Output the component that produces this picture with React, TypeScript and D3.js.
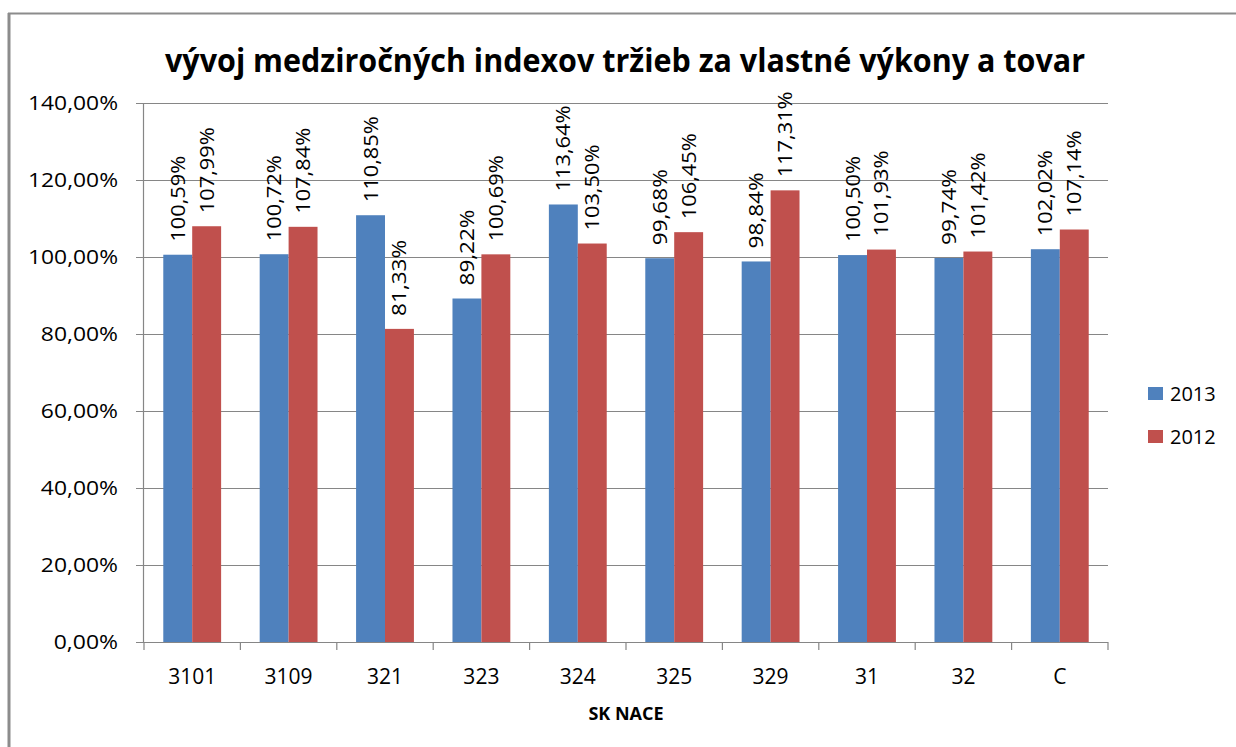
import * as d3 from 'd3'
import { useEffect } from 'react'

const categories = ['3101', '3109', '321', '323', '324', '325', '329', '31', '32', 'C']
const series = ['2013', '2012']
const values2013 = [100.59, 100.72, 110.85, 89.22, 113.64, 99.68, 98.84, 100.5, 99.74, 102.02]
const values2012 = [107.99, 107.84, 81.33, 100.69, 103.5, 106.45, 117.31, 101.93, 101.42, 107.14]
const yTicks = [0, 20, 40, 60, 80, 100, 120, 140]
const colors = ['#4F81BD', '#C0504D']

const W = 1236
const H = 747
const font = 'Open Sans, Noto Sans, sans-serif'

const fmt = (v: number) => v.toFixed(2).replace('.', ',') + '%'

export default function App() {
  useEffect(() => {
    document.body.style.margin = '0'
  }, [])

  const margin = { top: 103, right: 128, bottom: 105, left: 144 }
  const w = W - margin.left - margin.right
  const h = H - margin.top - margin.bottom

  const x0 = d3.scaleBand().domain(categories).range([0, w]).padding(0)
  const groupW = x0.bandwidth() * 0.6
  const off = (x0.bandwidth() - groupW) / 2
  const x1 = d3.scaleBand().domain(series).range([off, off + groupW]).padding(0)
  const y = d3.scaleLinear().domain([0, 140]).range([h, 0])

  const data = categories.map((c, i) => ({ c, vals: [values2013[i], values2012[i]] }))

  return (
    <svg width={W} height={H} style={{ display: 'block', background: '#fff' }}>
      {/* frame */}
      <line x1={8} x2={W} y1={13.5} y2={13.5} stroke="#8c8c8c" strokeWidth={2} />
      <line x1={9} x2={9} y1={13} y2={H} stroke="#8c8c8c" strokeWidth={3} />

      <text x={625} y={72} textAnchor="middle" fontFamily={font} fontWeight="bold" fontSize={32}
        textLength={920} lengthAdjust="spacingAndGlyphs" fill="#000">
        vývoj medziročných indexov tržieb za vlastné výkony a tovar
      </text>

      <g transform={`translate(${margin.left},${margin.top})`}>
        {yTicks.map(t => (
          <g key={t}>
            <line x1={-8} x2={w} y1={Math.round(y(t)) + 0.5} y2={Math.round(y(t)) + 0.5} stroke="#868686" strokeWidth={1.2} />
            <text x={-26} y={y(t) + 7} textAnchor="end" fontFamily={font} fontSize={20} fill="#000"
              textLength={(fmt(t).length * 90) / 7} lengthAdjust="spacingAndGlyphs">
              {fmt(t)}
            </text>
          </g>
        ))}
        <line x1={-0.5} x2={-0.5} y1={0} y2={h} stroke="#868686" strokeWidth={1.2} />

        {data.map(d => (
          <g key={d.c} transform={`translate(${x0(d.c)},0)`}>
            {d.vals.map((v, j) => (
              <rect key={j} x={x1(series[j])} y={y(v)} width={x1.bandwidth()} height={h - y(v)} fill={colors[j]} />
            ))}
            {d.vals.map((v, j) => {
              const cx = (x1(series[j]) as number) + x1.bandwidth() / 2
              const cy = y(v) - 13
              return (
                <text key={'l' + j} transform={`translate(${cx + 7},${cy}) rotate(-90)`} fontFamily={font}
                  fontSize={20} fill="#000" textLength={v < 100 ? 76 : 86} lengthAdjust="spacingAndGlyphs">
                  {fmt(v)}
                </text>
              )
            })}
            <text x={x0.bandwidth() / 2} y={h + 42} textAnchor="middle" fontFamily={font} fontSize={21} fill="#000">
              {d.c}
            </text>
          </g>
        ))}

        {/* x axis */}
        <line x1={0} x2={w} y1={h + 0.5} y2={h + 0.5} stroke="#868686" strokeWidth={1.2} />
        {[...categories.map(c => x0(c) as number), w].map((tx, i) => (
          <line key={i} x1={tx} x2={tx} y1={h} y2={h + 8} stroke="#868686" strokeWidth={1.2} />
        ))}
        <text x={w / 2} y={h + 78} textAnchor="middle" fontFamily={font} fontWeight="bold" fontSize={18} fill="#000">
          SK NACE
        </text>
      </g>

      {/* legend */}
      {series.map((s, i) => (
        <g key={s} transform={`translate(1148,${387 + i * 43})`}>
          <rect width={15} height={13} fill={colors[i]} />
          <text x={22} y={14} fontFamily={font} fontSize={20} fill="#000">{s}</text>
        </g>
      ))}
    </svg>
  )
}
